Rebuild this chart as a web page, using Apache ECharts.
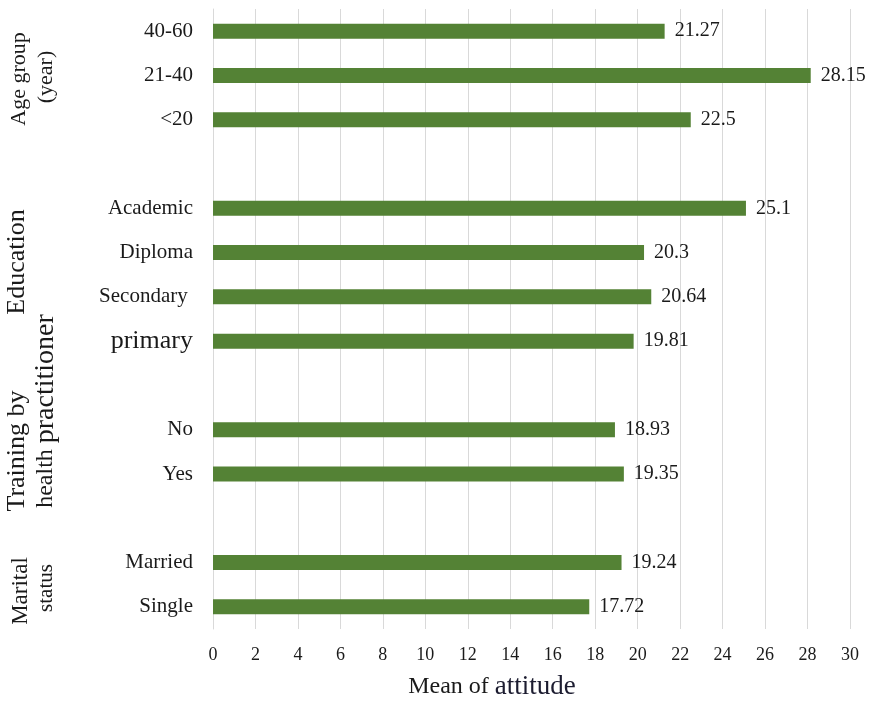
<!DOCTYPE html>
<html>
<head>
<meta charset="utf-8">
<script src="https://cdn.jsdelivr.net/npm/echarts@6/dist/echarts.min.js"></script>
<style>
  html, body { margin: 0; padding: 0; background: #fff; }
  #chart { width: 874px; height: 707px; }
</style>
</head>
<body>
<div id="chart"></div>
<script>
// categories top to bottom, blank rows separate the groups
const categories = ['40-60', '21-40', '<20', ' ', 'Academic', 'Diploma', 'Secondary ', 'primary', '  ', 'No', 'Yes', '   ', 'Married', 'Single']
const attitudeMeans = [21.27, 28.15, 22.5, null, 25.1, 20.3, 20.64, 19.81, null, 18.93, 19.35, null, 19.24, 17.72]
const xTicks = { min: 0, max: 30, step: 2 }

const serif = '"Liberation Serif", "Times New Roman", serif'
const ink = '#1a1a1a'
const green = '#548235'

let chart = echarts.init(document.getElementById('chart'))

// rotated group titles on the far left
function groupTitle(x, y, text, size, rich) {
  return {
    type: 'text',
    x: x,
    y: y,
    rotation: Math.PI / 2,
    style: {
      text: text,
      font: size + 'px ' + serif,
      fill: ink,
      align: 'center',
      verticalAlign: 'middle',
      rich: rich
    }
  }
}

let option = {
  animation: false,
  textStyle: { fontFamily: serif, color: ink },
  grid: { left: 213, right: 24, top: 9, bottom: 78 },
  xAxis: {
    type: 'value',
    min: xTicks.min,
    max: xTicks.max,
    interval: xTicks.step,
    axisLine: { show: false },
    axisTick: { show: false },
    axisLabel: { fontSize: 18, color: ink, fontFamily: serif, margin: 17 },
    splitLine: { lineStyle: { color: '#d9d9d9', width: 1 } }
  },
  yAxis: {
    type: 'category',
    inverse: true,
    data: categories,
    axisLine: { show: true, lineStyle: { color: '#d9d9d9' } },
    axisTick: { show: false },
    axisLabel: {
      fontSize: 21,
      color: ink,
      fontFamily: serif,
      margin: 20,
      formatter: v => v === 'primary' ? '{big|primary}' : v,
      rich: {
        big: { fontSize: 26, fontFamily: serif, color: ink }
      }
    }
  },
  series: [{
    type: 'bar',
    data: attitudeMeans,
    barWidth: 15,
    itemStyle: { color: green },
    label: {
      show: true,
      position: 'right',
      distance: 10,
      fontSize: 20,
      fontFamily: serif,
      color: ink
    }
  }],
  graphic: [
    groupTitle(19, 79, 'Age group', 22),
    groupTitle(46, 77, '(year)', 22),
    groupTitle(17, 262, 'Education', 26),
    groupTitle(17, 451, 'Training by', 26),
    groupTitle(46, 411, '{a|health }{b|practitioner}', 24, {
      a: { fontSize: 24, fontFamily: serif, fill: ink },
      b: { fontSize: 28, fontFamily: serif, fill: ink }
    }),
    groupTitle(21, 591, 'Marital', 23),
    groupTitle(46, 588, 'status', 21),
    {
      type: 'text',
      x: 492,
      y: 687,
      style: {
        text: '{a|Mean of }{b|attitude}',
        align: 'center',
        verticalAlign: 'middle',
        rich: {
          a: { fontSize: 24, fontFamily: serif, fill: ink },
          b: { fontSize: 27, fontFamily: serif, fill: '#1c1c30' }
        }
      }
    }
  ]
}

chart.setOption(option)
</script>
</body>
</html>
